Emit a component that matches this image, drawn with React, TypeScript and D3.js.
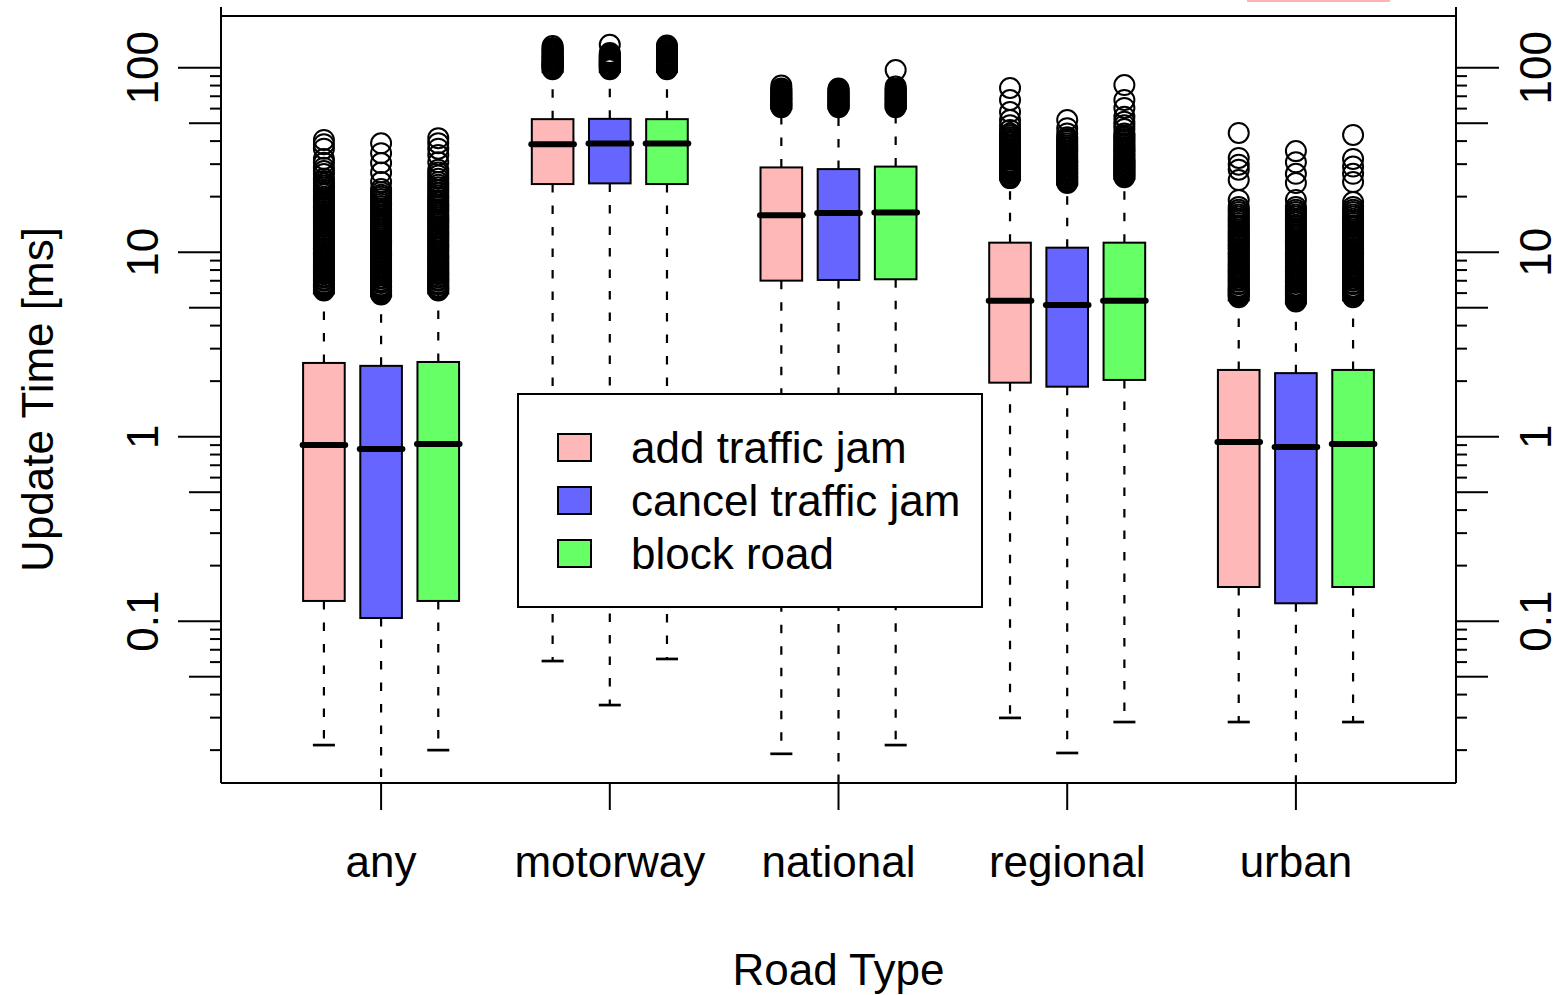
import React from 'react';
import * as d3 from 'd3';

const roadTypes = ['any', 'motorway', 'national', 'regional', 'urban'];
const actions = ['add traffic jam', 'cancel traffic jam', 'block road'];
const actionColors = ['#FFB8B8', '#6666FF', '#66FF66'];

// add traffic jam (per road type)
const addLower = [0.0213, 0.0608, 0.0191, 0.0299, 0.0284];
const addQ1 = [0.1287, 23.4, 7.01, 1.962, 0.1532];
const addMedian = [0.902, 38.5, 15.85, 5.46, 0.936];
const addQ3 = [2.51, 52.6, 28.8, 11.26, 2.3];
const addUpper = [6.0, 95, 60, 24.8, 5.5];
const addOutliers = [
  [6.2, 6.3, 6.4, 6.5, 6.6, 6.7, 6.8, 7.0, 7.1, 7.3, 7.4, 7.6, 7.7, 7.9, 8.0, 8.2, 8.4, 8.6, 8.8, 9.0, 9.2, 9.4, 9.6, 9.8, 10.0, 10.3, 10.5, 10.8, 11.0, 11.3, 11.5, 11.8, 12.1, 12.4, 12.7, 13.0, 13.3, 13.7, 14.0, 14.4, 14.7, 15.1, 15.5, 15.9, 16.3, 16.7, 17.2, 17.6, 18.1, 18.6, 19.0, 19.5, 20.0, 20.6, 21.2, 21.8, 22.4, 23.0, 23.6, 24.3, 25.0, 26.5, 27.5, 28.7, 30.5, 32.0, 36.4, 38.5, 40.6],
  [98, 99, 100, 101, 102, 103, 104, 105, 106, 107, 108, 110, 111, 113, 114, 116, 118, 120, 122, 124, 126, 128, 131],
  [61, 61.8, 62.5, 63.3, 64, 65, 66, 67, 68, 69, 70, 71, 72, 73.3, 74.5, 75.8, 77, 80],
  [25.2, 25.6, 26, 26.5, 27, 27.5, 28, 28.5, 29, 29.5, 30, 30.5, 31, 31.8, 32.5, 33.3, 34, 34.8, 35.5, 36.3, 37, 37.8, 38.5, 39.3, 40, 41, 42, 43, 44, 46, 48.8, 52, 57.5, 66.8, 77.6],
  [5.7, 5.8, 5.9, 6.0, 6.1, 6.2, 6.3, 6.4, 6.5, 6.7, 6.8, 7.0, 7.1, 7.3, 7.4, 7.6, 7.7, 7.9, 8.0, 8.2, 8.4, 8.6, 8.8, 9.0, 9.2, 9.4, 9.6, 9.8, 10.0, 10.3, 10.5, 10.8, 11.0, 11.3, 11.5, 11.8, 12.1, 12.4, 12.7, 13.0, 13.3, 13.7, 14.0, 14.4, 14.8, 15.2, 15.6, 16.0, 16.5, 17.0, 17.6, 19.2, 24.6, 28.0, 29.8, 32.4, 44.3],
];

// cancel traffic jam
const cancelLower = [0.008, 0.0351, 0.008, 0.0193, 0.009];
const cancelQ1 = [0.104, 23.6, 7.07, 1.866, 0.125];
const cancelMedian = [0.858, 38.8, 16.3, 5.17, 0.88];
const cancelQ3 = [2.42, 52.8, 28.2, 10.58, 2.21];
const cancelUpper = [5.8, 95, 60, 23.3, 5.3];
const cancelOutliers = [
  [5.9, 6.0, 6.1, 6.2, 6.3, 6.4, 6.5, 6.6, 6.8, 6.9, 7.0, 7.2, 7.3, 7.5, 7.6, 7.8, 7.9, 8.1, 8.3, 8.5, 8.7, 8.9, 9.1, 9.3, 9.5, 9.7, 9.9, 10.1, 10.4, 10.6, 10.9, 11.1, 11.4, 11.6, 11.9, 12.2, 12.5, 12.8, 13.1, 13.4, 13.8, 14.1, 14.5, 14.8, 15.2, 15.6, 16.0, 16.4, 16.9, 17.3, 17.8, 18.3, 18.8, 19.4, 20.0, 20.5, 21.2, 22.0, 24.0, 27.0, 30.4, 34.4, 38.9],
  [98, 99, 100, 101, 102, 103, 104, 105, 106, 107, 108, 109, 110, 111.5, 113, 114.5, 116, 118, 120, 133],
  [61, 61.8, 62.5, 63.3, 64, 65, 66, 67, 68, 69, 70, 71, 72, 73.3, 74.5, 75.8, 77],
  [23.7, 24.1, 24.5, 24.9, 25.3, 25.7, 26.2, 26.6, 27.1, 27.5, 28, 28.5, 29, 29.5, 30, 30.5, 31, 31.5, 32, 32.7, 33.5, 34.2, 35, 35.7, 36.5, 37.2, 38, 39, 40, 41, 42, 44, 47, 52],
  [5.4, 5.5, 5.6, 5.7, 5.8, 5.9, 6.0, 6.1, 6.2, 6.3, 6.4, 6.5, 6.6, 6.8, 6.9, 7.0, 7.2, 7.3, 7.5, 7.6, 7.8, 7.9, 8.1, 8.3, 8.5, 8.7, 8.9, 9.1, 9.3, 9.5, 9.7, 9.9, 10.1, 10.4, 10.6, 10.9, 11.1, 11.4, 11.6, 11.9, 12.2, 12.5, 12.8, 13.1, 13.4, 13.8, 14.1, 14.5, 14.8, 15.2, 15.6, 16.0, 16.5, 17.0, 17.6, 19.2, 23.7, 26.6, 30.7, 35.3],
];

// block road
const blockLower = [0.02, 0.0624, 0.0213, 0.0284, 0.0284];
const blockQ1 = [0.1287, 23.4, 7.13, 2.03, 0.1532];
const blockMedian = [0.913, 38.8, 16.4, 5.46, 0.913];
const blockQ3 = [2.54, 52.6, 29.1, 11.26, 2.3];
const blockUpper = [6.0, 95, 60, 25.0, 5.5];
const blockOutliers = [
  [6.2, 6.3, 6.4, 6.5, 6.7, 6.8, 7.0, 7.1, 7.3, 7.4, 7.6, 7.7, 7.9, 8.1, 8.3, 8.5, 8.7, 8.9, 9.1, 9.3, 9.5, 9.7, 10.0, 10.2, 10.5, 10.7, 11.0, 11.3, 11.6, 11.9, 12.2, 12.5, 12.8, 13.1, 13.5, 13.8, 14.2, 14.6, 15.0, 15.4, 15.8, 16.2, 16.7, 17.1, 17.6, 18.1, 18.6, 19.1, 19.7, 20.3, 21.0, 21.7, 22.5, 23.2, 24.0, 25.0, 26.0, 27.0, 28.0, 30.7, 33.6, 36.4, 39.0, 41.5],
  [98, 99, 100, 101, 102, 103, 104, 105, 106, 107.5, 109, 110.5, 112, 113.5, 115, 116.5, 118, 120, 122, 124.5, 127, 129.5, 132],
  [61, 61.8, 62.5, 63.3, 64, 65, 66, 67, 68, 69, 70, 71, 72, 73.3, 74.5, 75.8, 77, 79, 97],
  [25.5, 25.9, 26.3, 26.8, 27.2, 27.7, 28.1, 28.6, 29, 29.5, 30, 30.5, 31, 31.5, 32, 32.7, 33.5, 34.2, 35, 35.7, 36.5, 37.2, 38, 39, 40, 41, 42, 43, 44, 46.5, 48.8, 51, 54.2, 60.5, 66.8, 80.5],
  [5.7, 5.8, 5.9, 6.0, 6.1, 6.2, 6.3, 6.4, 6.5, 6.7, 6.8, 7.0, 7.1, 7.3, 7.4, 7.6, 7.7, 7.9, 8.0, 8.2, 8.4, 8.6, 8.8, 9.0, 9.2, 9.4, 9.6, 9.8, 10.0, 10.3, 10.5, 10.8, 11.0, 11.3, 11.5, 11.8, 12.1, 12.4, 12.7, 13.0, 13.3, 13.7, 14.0, 14.4, 14.8, 15.2, 15.6, 16.0, 16.5, 17.0, 17.6, 18.7, 24.0, 26.6, 29.1, 32.0, 43.2],
];

const yLabels = ['0.1', '1', '10', '100'];
const yLabelValues = [0.1, 1, 10, 100];

const series = [
  { lower: addLower, q1: addQ1, median: addMedian, q3: addQ3, upper: addUpper, outliers: addOutliers },
  { lower: cancelLower, q1: cancelQ1, median: cancelMedian, q3: cancelQ3, upper: cancelUpper, outliers: cancelOutliers },
  { lower: blockLower, q1: blockQ1, median: blockMedian, q3: blockQ3, upper: blockUpper, outliers: blockOutliers },
];

const W = 1555;
const H = 995;
const left = 221;
const right = 1456;
const top = 16;
const bottom = 783;
const FONT = '"Liberation Sans", Arial, Helvetica, sans-serif';
const FS = 44;

export default function App() {
  const x = d3.scalePoint<string>().domain(roadTypes).range([left, right]).padding(0.7);
  const step = x.step();
  const y = d3.scaleLog().domain([0.01327, 190.6]).range([bottom, top]);
  const offset = step * 0.25;
  const boxW = step * 0.182;
  const capW = boxW * 0.53;

  const ticks: { v: number; kind: number }[] = [];
  for (let e = -2; e <= 2; e++) {
    for (let k = 1; k <= 9; k++) {
      const v = k * Math.pow(10, e);
      if (v >= 0.01327 && v <= 190.6) ticks.push({ v, kind: k === 1 ? 2 : k === 5 ? 1 : 0 });
    }
  }
  const tickLen = [11, 32, 43];

  return (
    <svg width={W} height={H} style={{ position: 'absolute', left: 0, top: 0, background: '#fff' }} fontFamily={FONT}>
      <defs>
        <clipPath id="panel">
          <rect x={left} y={top} width={right - left} height={bottom - top} />
        </clipPath>
      </defs>
      <rect x={0} y={0} width={W} height={H} fill="#fff" />
      <rect x={1247} y={0} width={143} height={2} fill="#ffb4b4" />

      <g clipPath="url(#panel)">
        {roadTypes.map((rt, i) =>
          series.map((s, j) => {
            const cx = (x(rt) as number) + (j - 1) * offset;
            const yq1 = y(s.q1[i]);
            const yq3 = y(s.q3[i]);
            const ymed = y(s.median[i]);
            const ylo = y(s.lower[i]);
            const yup = y(s.upper[i]);
            return (
              <g key={rt + j}>
                <line x1={cx} x2={cx} y1={yq1} y2={ylo} stroke="#000" strokeWidth={2.2} strokeDasharray="8.5,13" />
                <line x1={cx} x2={cx} y1={yq3} y2={yup} stroke="#000" strokeWidth={2.2} strokeDasharray="8.5,13" />
                <line x1={cx - capW / 2} x2={cx + capW / 2} y1={ylo} y2={ylo} stroke="#000" strokeWidth={2.7} />
                <line x1={cx - capW / 2} x2={cx + capW / 2} y1={yup} y2={yup} stroke="#000" strokeWidth={2.7} />
                <rect x={cx - boxW / 2} y={yq3} width={boxW} height={yq1 - yq3} fill={actionColors[j]} stroke="#000" strokeWidth={2} />
                <line x1={cx - boxW / 2 - 0.5} x2={cx + boxW / 2 + 0.5} y1={ymed} y2={ymed} stroke="#000" strokeWidth={6} strokeLinecap="round" />
                {s.outliers[i].map((v, k) => (
                  <circle key={k} cx={cx} cy={y(v)} r={10} fill="none" stroke="#000" strokeWidth={2} />
                ))}
              </g>
            );
          })
        )}
      </g>

      {/* panel border */}
      <line x1={left} x2={right} y1={top} y2={top} stroke="#000" strokeWidth={2} />
      <line x1={left} x2={right} y1={bottom} y2={bottom} stroke="#000" strokeWidth={2} />
      <line x1={left} x2={left} y1={7} y2={bottom} stroke="#000" strokeWidth={2} />
      <line x1={right} x2={right} y1={7} y2={bottom} stroke="#000" strokeWidth={2} />

      {/* y ticks */}
      {ticks.map((t, i) => (
        <g key={i}>
          <line x1={left - tickLen[t.kind]} x2={left} y1={y(t.v)} y2={y(t.v)} stroke="#000" strokeWidth={2} />
          <line x1={right} x2={right + tickLen[t.kind]} y1={y(t.v)} y2={y(t.v)} stroke="#000" strokeWidth={2} />
        </g>
      ))}
      {yLabelValues.map((v, i) => (
        <g key={i}>
          <text transform={`translate(158,${y(v)}) rotate(-90)`} textAnchor="middle" fontSize={FS} fill="#000">{yLabels[i]}</text>
          <text transform={`translate(1551,${y(v)}) rotate(-90)`} textAnchor="middle" fontSize={FS} fill="#000">{yLabels[i]}</text>
        </g>
      ))}

      {/* x ticks */}
      {roadTypes.map((rt) => (
        <g key={rt}>
          <line x1={x(rt)} x2={x(rt)} y1={bottom} y2={bottom + 27} stroke="#000" strokeWidth={2} />
          <text x={x(rt)} y={877} textAnchor="middle" fontSize={FS} fill="#000">{rt}</text>
        </g>
      ))}

      <text x={(left + right) / 2} y={985} textAnchor="middle" fontSize={FS} fill="#000">Road Type</text>
      <text transform={`translate(53,${(top + bottom) / 2}) rotate(-90)`} textAnchor="middle" fontSize={FS} fill="#000">Update Time [ms]</text>

      {/* legend */}
      <g>
        <rect x={518} y={394} width={464} height={213} fill="#fff" stroke="#000" strokeWidth={2} />
        {actions.map((a, j) => (
          <g key={a}>
            <rect x={558} y={434 + j * 53} width={33} height={27} fill={actionColors[j]} stroke="#000" strokeWidth={2} />
            <text x={631} y={463 + j * 53} fontSize={FS} fill="#000">{a}</text>
          </g>
        ))}
      </g>
    </svg>
  );
}
